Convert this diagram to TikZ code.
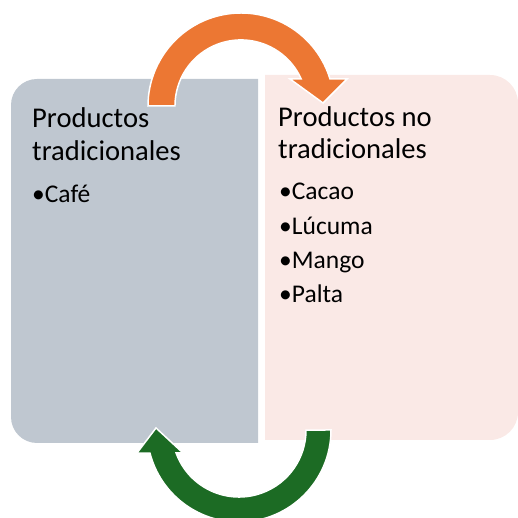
\documentclass[tikz,border=0pt]{standalone}
\usepackage{fontspec}
\setmainfont{Carlito}
\definecolor{leftbox}{RGB}{191,199,208}
\definecolor{rightbox}{RGB}{250,233,230}
\definecolor{arrorange}{RGB}{236,119,51}
\definecolor{arrgreen}{RGB}{28,107,36}
\tikzset{
  boxtitle/.style={anchor=base west, inner sep=0pt, font=\fontsize{28.6}{34}\selectfont},
  boxitem/.style={anchor=base west, inner sep=0pt, font=\fontsize{25.5}{30}\selectfont},
  cyclearrow/.style={draw=white, line width=1.5pt, line join=miter}
}
\begin{document}
\begin{tikzpicture}[x=1pt,y=1pt]
\useasboundingbox (0,0) rectangle (518,518);
% left box
\fill[leftbox] (258,439) -- (37,439) arc[start angle=90,end angle=180,radius=26]
  -- (11,101) arc[start angle=180,end angle=270,radius=26] -- (258,75) -- cycle;
% right box
\fill[rightbox] (265,443) -- (490,443) arc[start angle=90,end angle=0,radius=28]
  -- (518,106) arc[start angle=0,end angle=-90,radius=28] -- (265,78) -- cycle;
% texts
\node[boxtitle] (l1) at (32,390) {Productos};
\node[boxtitle] (l2) at (32,357) {tradicionales};
\node[boxitem] (l3) at (32,315) {•Café};
\node[boxtitle] (r1) at (278,391.3) {Productos no};
\node[boxtitle] (r2) at (278,359.7) {tradicionales};
\node[boxitem] (r3) at (279,318) {•Cacao};
\node[boxitem] (r4) at (279,283) {•Lúcuma};
\node[boxitem] (r5) at (279,249) {•Mango};
\node[boxitem] (r6) at (279,215.3) {•Palta};
% orange arrow (top)
\filldraw[cyclearrow, fill=arrorange] (148,412) arc[start angle=180,end angle=16.9,radius=93]
  -- (347,439) -- (323,415) -- (290,439) -- (301.2,439)
  arc[start angle=24.1,end angle=180,radius=66] -- cycle;
% green arrow (bottom)
\filldraw[cyclearrow, fill=arrgreen] (331,88) arc[start angle=0,end angle=-165.5,radius=92]
  -- (137,65) -- (156,90) -- (183,65) -- (176.1,65)
  arc[start angle=-159.93,end angle=0,radius=67] -- cycle;
\end{tikzpicture}
\end{document}
